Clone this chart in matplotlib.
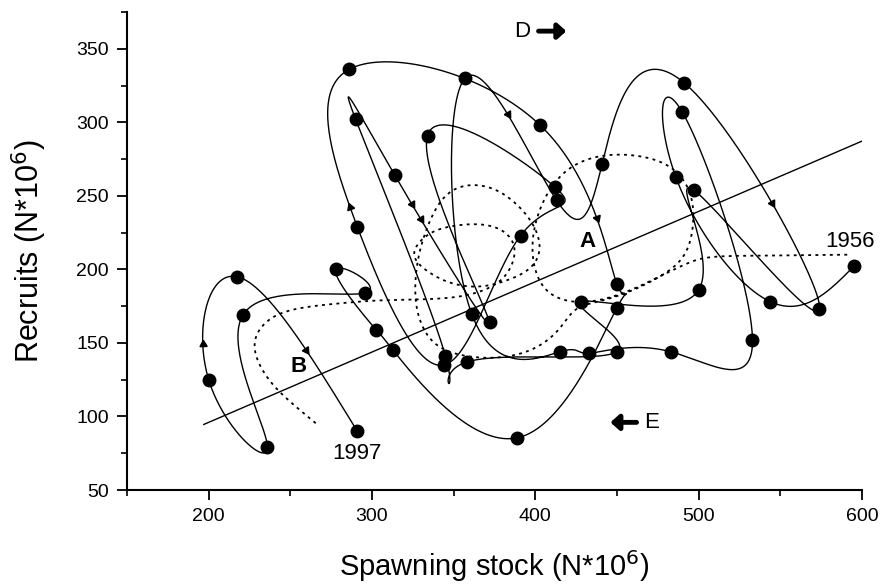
import numpy as np
import matplotlib
matplotlib.use("Agg")
import matplotlib.pyplot as plt

plt.rcParams['font.family'] = ['Liberation Sans', 'DejaVu Sans']

# ---- data ----
years = list(range(1956, 1998))
stock = [595, 544, 486, 490, 533, 483, 433, 415, 361, 357,
         413, 441, 491, 574, 497, 500, 428, 450, 358, 345,
         290, 314, 372, 334, 412, 391, 344, 291, 286, 403,
         450, 450, 389, 313, 302.5, 278, 296, 221, 236, 200,
         217.5, 291]
recruits = [202, 178, 263, 307, 152, 144, 143, 144, 170, 330,
            247, 272, 327, 173, 254, 186, 178, 144, 137, 141,
            302, 264, 164, 291, 256, 223, 135, 229, 336, 298,
            190, 174, 85.5, 145, 159, 200, 184, 169, 79, 125,
            195, 90]

# smoothed trajectory (dotted)
smooth_stock = [591, 550, 513, 494.7, 476.3, 454.8, 433.3, 414.9, 402.6, 398.3,
                403.9, 418.0, 439.5, 464.0, 483.6, 494.7, 496.5, 491.0, 476.3, 454.8,
                436.4, 424.1, 414.9, 402.6, 386.1, 365.8, 345.6, 333.3, 327.2, 327.2,
                332.1, 341.3, 353.6, 368.9, 384.2, 397.7, 402.6, 396.5, 382.4, 365.8,
                349.3, 335.2, 325.9, 332.1, 345.6, 365.8, 381.2, 387.3, 383.0, 372.0,
                353.6, 329.0, 304.5, 280.0, 255.4, 238.3, 229.1, 229.6, 238.3, 251.2,
                265.8]
smooth_recruits = [210, 209.5, 208.8, 204.8, 195.2, 184.4, 178.2, 180.3, 192.5, 216.3,
                   243.5, 266.0, 276.9, 276.9, 268.7, 251.7, 229.9, 209.5, 195.2, 183.7,
                   177.6, 172.1, 159.9, 148.3, 141.5, 140.1, 144.9, 156.5, 175.6, 199.3,
                   223.1, 244.9, 255.8, 256.5, 248.3, 232.0, 214.3, 200.7, 192.5, 188.4,
                   190.5, 197.9, 209.5, 221.7, 228.6, 230.6, 225.2, 212.9, 197.9, 187.7,
                   181.6, 179.6, 178.9, 176.9, 173.5, 166.7, 154.4, 139.5, 123.1, 108.8,
                   95.2]

# straight reference line
line_stock = [197, 600]
line_slope = 0.478
line_intercept_at_200 = 96.0

# arrow locations along the trajectory (approximate)
arrow_stock = [196, 268, 285, 324, 327, 378, 443, 546]
arrow_recruits = [150, 150, 243, 231, 246, 302, 237, 245]

labels = {"A": (432, 219), "B": (255, 134)}


def natural_spline(t, y, tt):
    t = np.asarray(t, float); y = np.asarray(y, float)
    n = len(t); h = np.diff(t)
    A = np.zeros((n, n)); r = np.zeros(n)
    A[0, 0] = 1; A[-1, -1] = 1
    for i in range(1, n - 1):
        A[i, i - 1] = h[i - 1]; A[i, i] = 2 * (h[i - 1] + h[i]); A[i, i + 1] = h[i]
        r[i] = 6 * ((y[i + 1] - y[i]) / h[i] - (y[i] - y[i - 1]) / h[i - 1])
    M = np.linalg.solve(A, r)
    idx = np.clip(np.searchsorted(t, tt) - 1, 0, n - 2)
    x0 = t[idx]; x1 = t[idx + 1]; hh = x1 - x0
    a = (x1 - tt) / hh; b = (tt - x0) / hh
    return (a * y[idx] + b * y[idx + 1]
            + ((a ** 3 - a) * M[idx] + (b ** 3 - b) * M[idx + 1]) * hh ** 2 / 6)


fig = plt.figure(figsize=(8.84, 5.86), dpi=100)
ax = fig.add_axes([0.1437, 0.1638, 0.8313, 0.8157])
ax.set_xlim(150, 600)
ax.set_ylim(50, 375)

# dotted smoothed trajectory
ts = np.arange(len(smooth_stock))
tts = np.linspace(0, len(smooth_stock) - 1, 1500)
ax.plot(natural_spline(ts, smooth_stock, tts), natural_spline(ts, smooth_recruits, tts),
        color='black', lw=1.3, linestyle=(0, (1.6, 2.4)))

# solid trajectory spline
t = np.arange(len(stock))
tt = np.linspace(0, len(stock) - 1, 3000)
xs = natural_spline(t, stock, tt)
ys = natural_spline(t, recruits, tt)
ax.plot(xs, ys, color='black', lw=1.0)
ax.plot(stock, recruits, 'o', color='black', ms=9)

# straight line
lx = np.array(line_stock, float)
ax.plot(lx, line_intercept_at_200 + line_slope * (lx - 200), color='black', lw=1.0)

# arrowheads along trajectory
fig.canvas.draw()
disp = ax.transData.transform(np.column_stack([xs, ys]))
for sx, sy in zip(arrow_stock, arrow_recruits):
    p = ax.transData.transform((sx, sy))
    k = np.argmin(np.hypot(disp[:, 0] - p[0], disp[:, 1] - p[1]))
    k = min(max(k, 1), len(disp) - 2)
    d = disp[k + 1] - disp[k - 1]
    ang = np.degrees(np.arctan2(d[1], d[0]))
    ax.plot(xs[k], ys[k], marker=(3, 0, ang - 90), color='black', ms=6)

# texts
ax.text(593, 219, "1956", fontsize=16, ha='center', va='center')
ax.text(291, 75, "1997", fontsize=16, ha='center', va='center')
for k, (x, y) in labels.items():
    ax.text(x, y, k, fontsize=16, fontweight='bold', ha='center', va='center')
ax.text(392, 362, "D", fontsize=16, ha='center', va='center')
ax.annotate('', xy=(419, 362), xytext=(402, 362),
            arrowprops=dict(arrowstyle='-|>,head_width=0.45,head_length=0.5', lw=3.5,
                            color='black', shrinkA=0, shrinkB=0))
ax.text(471, 96, "E", fontsize=16, ha='center', va='center')
ax.annotate('', xy=(446, 96), xytext=(462, 96),
            arrowprops=dict(arrowstyle='-|>,head_width=0.45,head_length=0.5', lw=3.5,
                            color='black', shrinkA=0, shrinkB=0))

# axes styling
for s in ['top', 'right']:
    ax.spines[s].set_visible(False)
ax.spines['left'].set_linewidth(1.5)
ax.spines['bottom'].set_linewidth(1.5)
ax.set_xticks([200, 300, 400, 500, 600])
ax.set_xticks([150, 250, 350, 450, 550], minor=True)
ax.set_yticks([50, 100, 150, 200, 250, 300, 350])
ax.set_yticks([75, 125, 175, 225, 275, 325, 375], minor=True)
ax.tick_params(which='major', direction='out', length=7, width=1.3, labelsize=14, pad=6)
ax.tick_params(which='minor', direction='out', length=4, width=1.2)
ax.set_xlabel("Spawning stock (N*10$^6$)", fontsize=21)
ax.set_ylabel("Recruits (N*10$^6$)", fontsize=22)
ax.xaxis.set_label_coords(0.5, -0.159)
ax.xaxis.label.set_va('center')
ax.yaxis.set_label_coords(-0.133, 0.5)
ax.yaxis.label.set_va('center')

fig.savefig("out.png", dpi=100)
